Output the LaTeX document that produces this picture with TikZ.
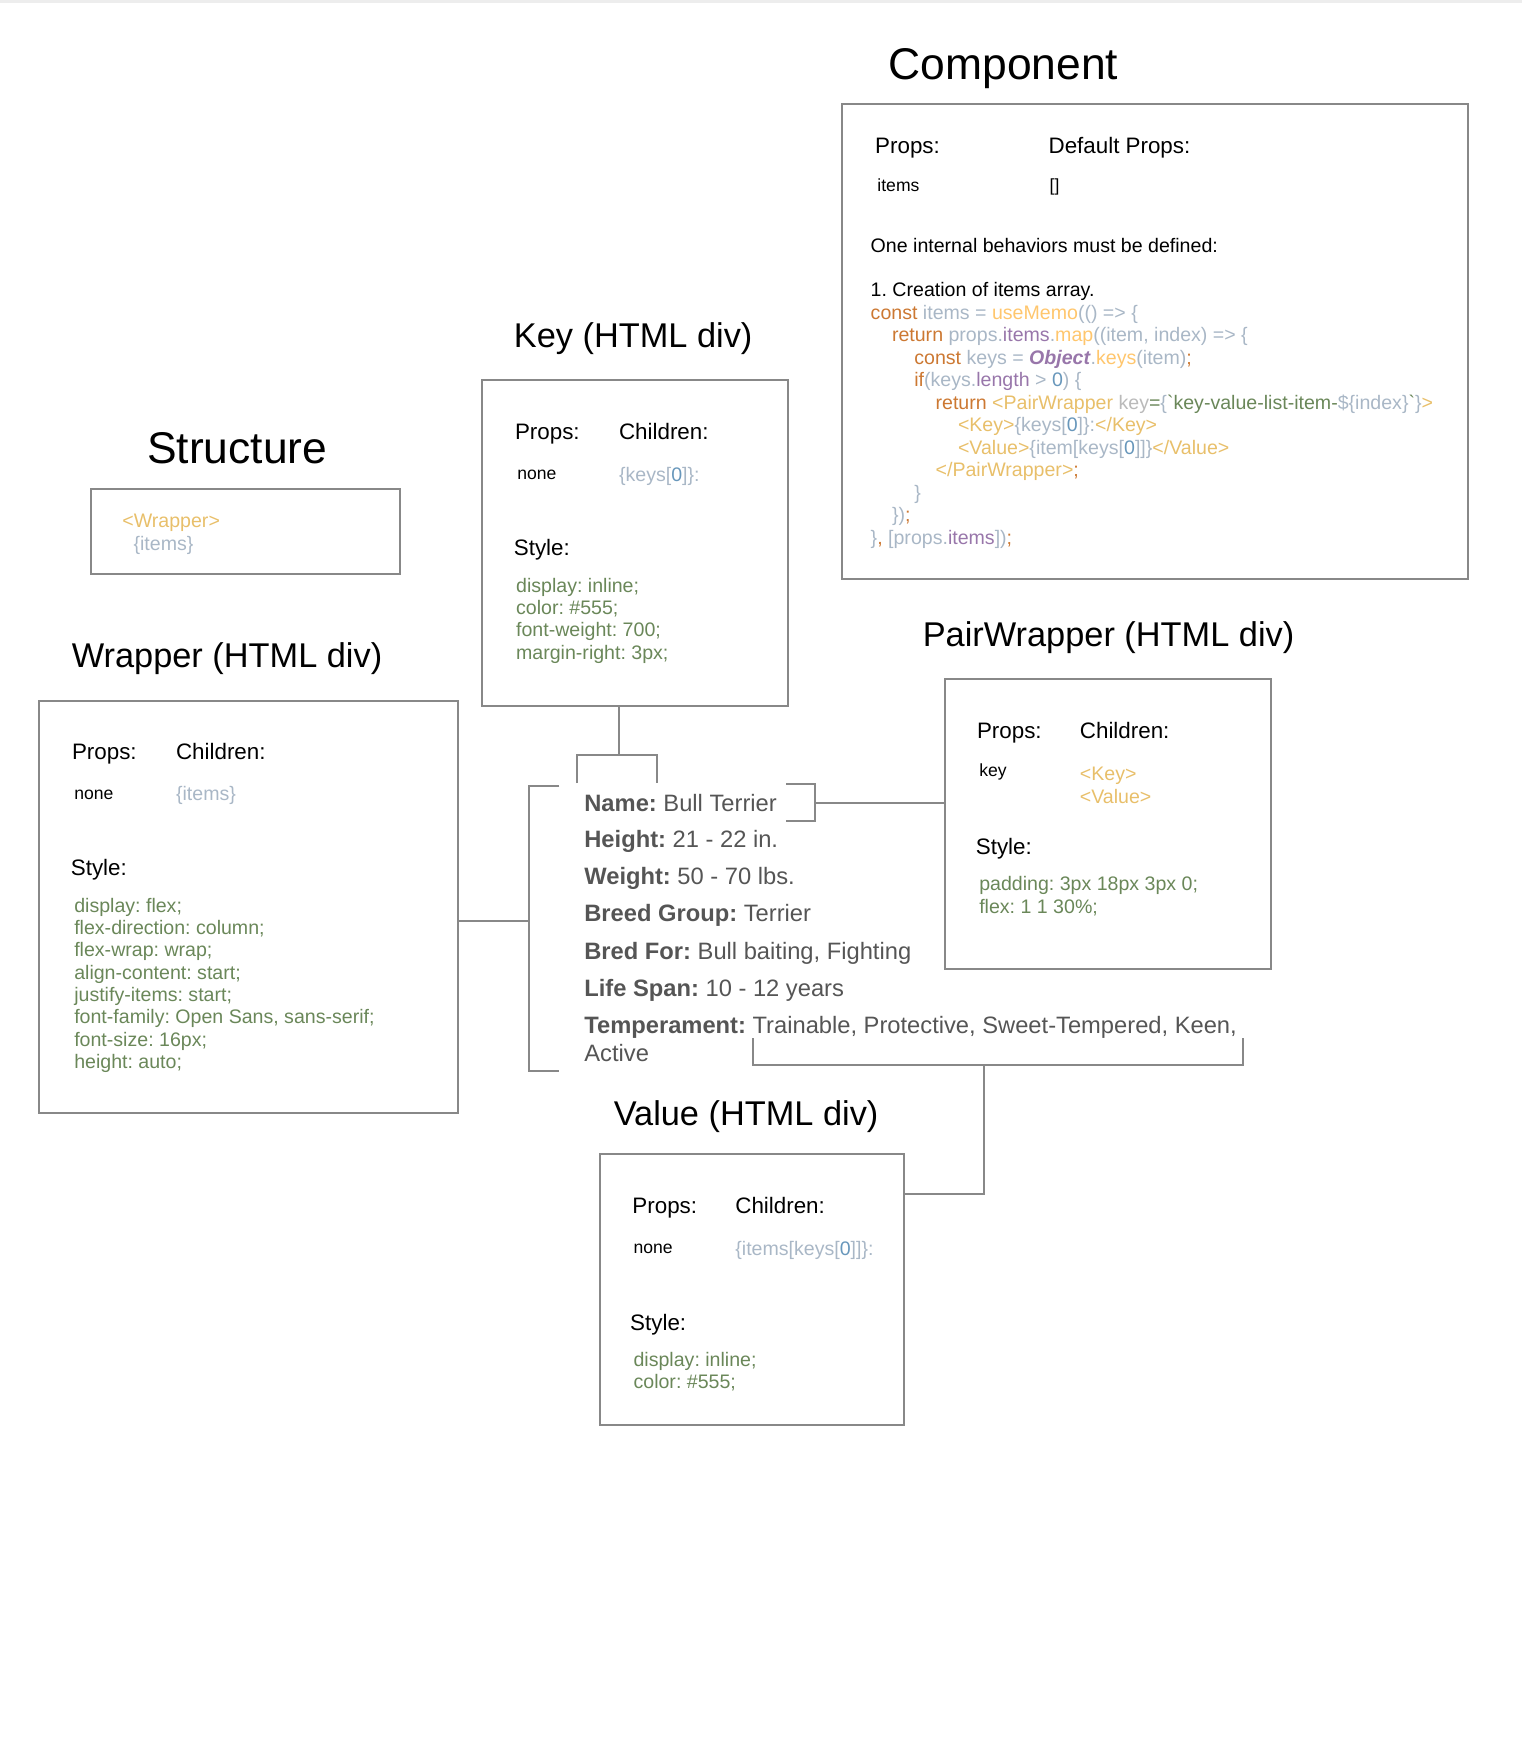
\documentclass[tikz,border=0pt]{standalone}
\usepackage{fontspec}
\setmainfont{Liberation Sans}
\usetikzlibrary{calc}
\definecolor{linegray}{HTML}{888888}
\definecolor{ckw}{HTML}{CC7832}
\definecolor{cid}{HTML}{A9B7C6}
\definecolor{cfld}{HTML}{9876AA}
\definecolor{cfn}{HTML}{FFC66D}
\definecolor{ctag}{HTML}{E8BF6A}
\definecolor{cstr}{HTML}{6A8759}
\definecolor{cnum}{HTML}{6897BB}
\definecolor{cattr}{HTML}{BABABA}
\definecolor{dgray}{HTML}{555555}
\newcommand{\myfs}[1]{\fontsize{#1}{#1}\selectfont}
\frenchspacing
\begin{document}
\frenchspacing
\begin{tikzpicture}[x=0.5pt,y=-0.5pt,
  bigtitle/.style={anchor=base, inner sep=0, font=\myfs{19.85}},
  title/.style={anchor=base, inner sep=0, font=\myfs{15.35}},
  lbl/.style={anchor=base west, inner sep=0, font=\myfs{10}},
  small/.style={anchor=base west, inner sep=0, font=\myfs{7.85}},
  body/.style={anchor=base west, inner sep=0, font=\myfs{8.75}},
  sty/.style={body, text=cstr},
  dog/.style={anchor=base west, inner sep=0, font=\myfs{10.6}, text=dgray},
  box/.style={draw=linegray, line width=0.9pt, inner sep=0, outer sep=0, rectangle},
  conn/.style={draw=linegray, line width=0.9pt}]
\useasboundingbox (0,0) rectangle (1361,1568);
\fill[black!7] (0,0) rectangle (1361,2.6);

% ---------- Component ----------
\node[bigtitle] (tcomp) at (897,71) {Component};
\node[box, minimum width=279.5pt, minimum height=212.5pt] (comp) at (1032.5,305.5) {};
\node[lbl] (cprops) at (782,137) {Props:};
\node[lbl] (cdef) at (937,137) {Default Props:};
\node[small] (citems) at (784,171) {items};
\node[small] (cbr) at (938,171) {[]};
\node[body] (cone) at (778,225.5) {One internal behaviors must be defined:};
\node[body] (ccre) at (778,265.5) {1. Creation of items array.};
\node[body] (c1) at (778,285.5) {\textcolor{ckw}{const} \textcolor{cid}{items = }\textcolor{cfn}{useMemo}\textcolor{cid}{(() => \{}};
\node[body] (c2) at (797,305.6) {\textcolor{ckw}{return} \textcolor{cid}{props.}\textcolor{cfld}{items}\textcolor{cid}{.}\textcolor{cfn}{map}\textcolor{cid}{((item, index) => \{}};
\node[body] (c3) at (817,325.7) {\textcolor{ckw}{const} \textcolor{cid}{keys = }\textcolor{cfld}{\textbf{\textit{Object}}}\textcolor{cid}{.}\textcolor{cfn}{keys}\textcolor{cid}{(item)}\textcolor{ckw}{;}};
\node[body] (c4) at (817,345.8) {\textcolor{ckw}{if}\textcolor{cid}{(keys.}\textcolor{cfld}{length} \textcolor{cid}{> }\textcolor{cnum}{0}\textcolor{cid}{) \{}};
\node[body] (c5) at (836,365.9) {\textcolor{ckw}{return} \textcolor{ctag}{<PairWrapper} \textcolor{cattr}{key}\textcolor{cstr}{=}\textcolor{cid}{\{}\textcolor{cstr}{\textasciigrave key-value-list-item-}\textcolor{cid}{\$\{index\}}\textcolor{cstr}{\textasciigrave}\textcolor{cid}{\}}\textcolor{ctag}{>}};
\node[body] (c6) at (856,386.0) {\textcolor{ctag}{<Key>}\textcolor{cid}{\{keys[}\textcolor{cnum}{0}\textcolor{cid}{]\}:}\textcolor{ctag}{</Key>}};
\node[body] (c7) at (856,406.1) {\textcolor{ctag}{<Value>}\textcolor{cid}{\{item[keys[}\textcolor{cnum}{0}\textcolor{cid}{]]\}}\textcolor{ctag}{</Value>}};
\node[body] (c8) at (836,426.2) {\textcolor{ctag}{</PairWrapper>}\textcolor{ckw}{;}};
\node[body] (c9) at (817,446.3) {\textcolor{cid}{\}}};
\node[body] (c10) at (797,466.4) {\textcolor{cid}{\})}\textcolor{ckw}{;}};
\node[body] (c11) at (778,486.5) {\textcolor{cid}{\}}\textcolor{ckw}{,} \textcolor{cid}{[props.}\textcolor{cfld}{items}\textcolor{cid}{])}\textcolor{ckw}{;}};

% ---------- Key ----------
\node[title] (tkey) at (566,311) {Key (HTML div)};
\node[box, minimum width=136.5pt, minimum height=145.5pt] (keybox) at (567.5,485.5) {};
\node[lbl] (kprops) at (460,393) {Props:};
\node[lbl] (kchild) at (553,393) {Children:};
\node[small] (knone) at (462,428.5) {none};
\node[body] (kval) at (553,430) {\textcolor{cid}{\{keys[}\textcolor{cnum}{0}\textcolor{cid}{]\}:}};
\node[lbl] (kstyle) at (459,497) {Style:};
\node[sty] (ks1) at (461,529.3) {display: inline;};
\node[sty] (ks2) at (461,549.3) {color: \#555;};
\node[sty] (ks3) at (461,569.3) {font-weight: 700;};
\node[sty] (ks4) at (461,589.3) {margin-right: 3px;};

% ---------- Structure ----------
\node[bigtitle] (tstruct) at (212,414) {Structure};
\node[box, minimum width=138.5pt, minimum height=38pt] (structbox) at (219.5,475) {};
\node[body, text=ctag] (sw) at (109,472) {<Wrapper>};
\node[body, text=cid] (si) at (119,492) {\{items\}};

% ---------- Wrapper ----------
\node[title] (twrap) at (203,597) {Wrapper (HTML div)};
\node[box, minimum width=187pt, minimum height=184pt] (wrapbox) at (222,811) {};
\node[lbl] (wprops) at (64,679) {Props:};
\node[lbl] (wchild) at (157,679) {Children:};
\node[small] (wnone) at (66,714.5) {none};
\node[body, text=cid] (wval) at (157,716) {\{items\}};
\node[lbl] (wstyle) at (63,783) {Style:};
\node[sty] (ws1) at (66,815.3) {display: flex;};
\node[sty] (ws2) at (66,835.3) {flex-direction: column;};
\node[sty] (ws3) at (66,855.3) {flex-wrap: wrap;};
\node[sty] (ws4) at (66,875.3) {align-content: start;};
\node[sty] (ws5) at (66,895.3) {justify-items: start;};
\node[sty] (ws6) at (66,915.3) {font-family: Open Sans, sans-serif;};
\node[sty] (ws7) at (66,935.3) {font-size: 16px;};
\node[sty] (ws8) at (66,955.3) {height: auto;};

% ---------- PairWrapper ----------
\node[title] (tpair) at (991,578) {PairWrapper (HTML div)};
\node[box, minimum width=145.5pt, minimum height=129.5pt] (pairbox) at (990.5,736.5) {};
\node[lbl] (pprops) at (873,660) {Props:};
\node[lbl] (pchild) at (965,660) {Children:};
\node[small] (pkey) at (875,694.5) {key};
\node[body, text=ctag] (pk) at (965,698) {<Key>};
\node[body, text=ctag] (pv) at (965,718) {<Value>};
\node[lbl] (pstyle) at (872,764) {Style:};
\node[sty] (ps1) at (875,796.3) {padding: 3px 18px 3px 0;};
\node[sty] (ps2) at (875,816.3) {flex: 1 1 30\%;};

% ---------- Value ----------
\node[title] (tval) at (667,1006) {Value (HTML div)};
\node[box, minimum width=136pt, minimum height=121pt] (valbox) at (672,1153) {};
\node[lbl] (vprops) at (565,1085) {Props:};
\node[lbl] (vchild) at (657,1085) {Children:};
\node[small] (vnone) at (566,1120.5) {none};
\node[body] (vval) at (657,1122) {\textcolor{cid}{\{items[keys[}\textcolor{cnum}{0}\textcolor{cid}{]]\}:}};
\node[lbl] (vstyle) at (563,1189) {Style:};
\node[sty] (vs1) at (566,1221.3) {display: inline;};
\node[sty] (vs2) at (566,1241.3) {color: \#555;};

% ---------- Dog info ----------
\node[dog] (dname) at (522,725) {\textbf{Name:} Bull Terrier};
\node[dog] (dheight) at (522,758) {\textbf{Height:} 21 - 22 in.};
\node[dog] (dweight) at (522,791) {\textbf{Weight:} 50 - 70 lbs.};
\node[dog] (dgroup) at (522,824) {\textbf{Breed Group:} Terrier};
\node[dog] (dbred) at (522,858) {\textbf{Bred For:} Bull baiting, Fighting};
\node[dog] (dlife) at (522,891) {\textbf{Life Span:} 10 - 12 years};
\node[dog] (dtemp) at (522,924) {\textbf{Temperament:} Trainable, Protective, Sweet-Tempered, Keen,};
\node[dog] (dtemp2) at (522,949) {Active};

% ---------- connectors ----------
% Key -> bracket over the key label
\coordinate (kbm) at (553,675);
\coordinate (kbl) at (516,700);
\coordinate (kbr) at (587,700);
\draw[conn] (kbm |- keybox.south) -- (kbm);
\draw[conn] (kbl) |- (kbm) -| (kbr);

% Wrapper -> bracket round the whole list
\coordinate (lbt) at (500,703);
\coordinate (lbb) at (500,957);
\coordinate (lbm) at (473,823);
\draw[conn] (lbt) -- (lbt -| lbm) -- (lbb -| lbm) -- (lbb);
\draw[conn] (wrapbox.east |- lbm) -- (lbm);

% PairWrapper -> bracket round one pair
\coordinate (nbt) at (703,701);
\coordinate (nbb) at (703,734);
\coordinate (nbm) at (729,718);
\draw[conn] (nbt) -- (nbt -| nbm) -- (nbb -| nbm) -- (nbb);
\draw[conn] (nbm) -- (pairbox.west |- nbm);

% Value -> bracket under the value text
\coordinate (vbl) at (673,928);
\coordinate (vbr) at (1111,928);
\coordinate (vbm) at (880,952);
\coordinate (vbc) at (880,1067);
\draw[conn] (vbl) |- (vbm) -| (vbr);
\draw[conn] (vbm) -- (vbc) -- (valbox.east |- vbc);
\end{tikzpicture}
\end{document}
